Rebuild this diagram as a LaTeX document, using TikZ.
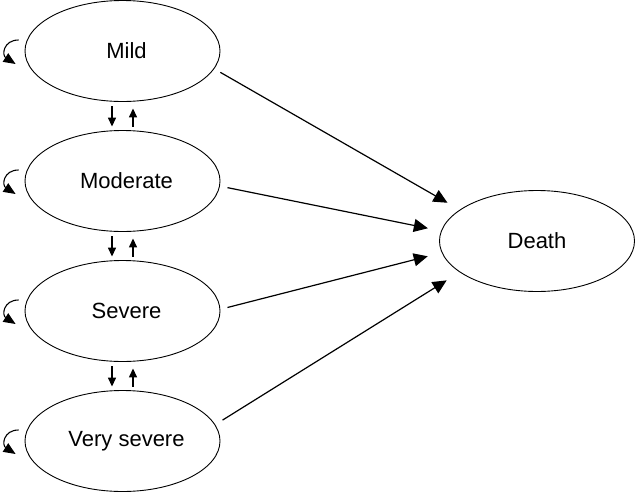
\documentclass[tikz,border=0pt]{standalone}
\usepackage{fontspec}
\setmainfont{Liberation Sans}
\usetikzlibrary{shapes.geometric,arrows.meta}
\begin{document}
\begin{tikzpicture}[x=1pt,y=-1pt,
  state/.style={draw=black,ellipse,line width=0.9pt,minimum width=195pt,minimum height=101pt,inner sep=0pt,font=\fontsize{22}{26}\selectfont},
  shifted/.style={execute at begin node={\hspace*{8pt}}},
  bigarrow/.style={line width=1.2pt,-{Triangle[length=14pt,width=13pt]}},
  vert/.style={line width=1.4pt,-{Triangle[length=9pt,width=8pt]}},
  selfloop/.style={line width=1.1pt,-{Triangle[length=12pt,width=10pt]}}]
\useasboundingbox (0,0) rectangle (635,493);
\node[state,shifted] (mild) at (122.5,51) {Mild};
\node[state,shifted] (moderate) at (122.5,181) {Moderate};
\node[state,shifted] (severe) at (122.5,311) {Severe};
\node[state,shifted] (vsevere) at (122.5,441) {Very severe};
\node[state] (death) at (537,241) {Death};
% transitions to death
\draw[bigarrow,shorten <=7pt,shorten >=14pt] (mild.-11) -- (death.158.4);
\draw[bigarrow,shorten <=7.7pt,shorten >=13.4pt] (moderate.-3.2) -- (death.174.4);
\draw[bigarrow,shorten <=7.3pt,shorten >=14.4pt] (severe.1.3) -- (death.-173.1);
\draw[bigarrow,shorten <=8.6pt,shorten >=15.3pt] (vsevere.10.1) -- (death.-158.4);
% vertical transitions
\foreach \a/\b in {mild/moderate,moderate/severe,severe/vsevere}{
  \draw[vert,shorten <=4.5pt,shorten >=3.5pt] ([xshift=-10.5pt]\a.south) -- ([xshift=-10.5pt]\b.north);
  \draw[vert,shorten <=3.5pt,shorten >=6.5pt] ([xshift=10.5pt]\b.north) -- ([xshift=10.5pt]\a.south);
}
% self loops
\foreach \n in {mild,moderate,severe,vsevere}{
  \draw[selfloop] ([shift={(-6,-11)}]\n.west) .. controls +(-15,0) and +(-14,-9) .. ([shift={(-9,13)}]\n.west);
}
\end{tikzpicture}
\end{document}
